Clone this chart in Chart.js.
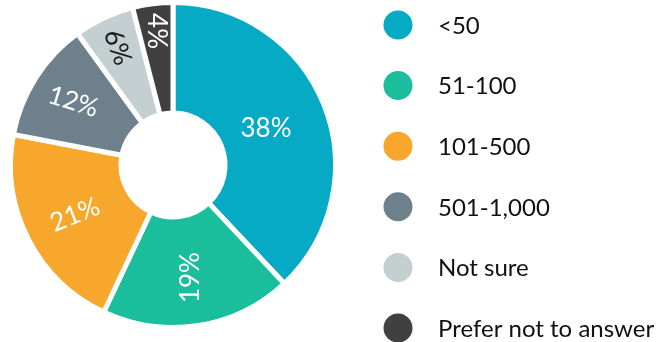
<!DOCTYPE html>
<html>
<head>
<meta charset="utf-8">
<script src="https://cdn.jsdelivr.net/npm/chart.js@4/dist/chart.umd.min.js"></script>
<style>
  html, body { margin: 0; padding: 0; background: #fff; }
  #wrap { width: 669px; height: 342px; position: relative; }
</style>
</head>
<body>
<div id="wrap"><canvas id="myChart"></canvas></div>
<script>
// company size breakdown
const categories = ['<50', '51-100', '101-500', '501-1,000', 'Not sure', 'Prefer not to answer'];
const shares = [38, 19, 21, 12, 6, 4];
const sliceColors = ['#06aac5', '#1bbe9c', '#f6a72c', '#6d808c', '#c3cfd1', '#404040'];

// label styling per slice
const labelColors = ['#fff', '#fff', '#fff', '#fff', '#1a1a1a', '#fff'];
const labelRotation = [0, -90, -22, 17, 70, 90];
const labelRadius = [100, 114, 110, 118, 130, 135];

// draws the percentage inside each slice, rotated
const sliceLabels = {
  id: 'sliceLabels',
  afterDatasetsDraw(chart) {
    const ctx = chart.ctx;
    const meta = chart.getDatasetMeta(0);
    ctx.save();
    ctx.font = '400 26px Lato';
    ctx.textAlign = 'center';
    ctx.textBaseline = 'middle';
    meta.data.forEach((arc, i) => {
      const mid = (arc.startAngle + arc.endAngle) / 2;
      const x = arc.x + Math.cos(mid) * labelRadius[i];
      const y = arc.y + Math.sin(mid) * labelRadius[i];
      ctx.save();
      ctx.translate(x, y);
      ctx.rotate(labelRotation[i] * Math.PI / 180);
      ctx.fillStyle = labelColors[i];
      ctx.fillText(shares[i] + '%', 0, 0);
      ctx.restore();
    });
    ctx.restore();
  }
};

// legend on the right side with round markers
const sideLegend = {
  id: 'sideLegend',
  afterDraw(chart) {
    const ctx = chart.ctx;
    ctx.save();
    ctx.font = '24px Lato';
    ctx.textBaseline = 'middle';
    chart.data.labels.forEach((label, i) => {
      const y = 25 + i * 60.6;
      ctx.beginPath();
      ctx.arc(398, y, 14.5, 0, Math.PI * 2);
      ctx.fillStyle = sliceColors[i];
      ctx.fill();
      ctx.fillStyle = '#111';
      ctx.fillText(label, 438, y + 1);
    });
    ctx.restore();
  }
};

const ctx = document.getElementById('myChart').getContext('2d');
new Chart(ctx, {
  type: 'doughnut',
  data: {
    labels: categories,
    datasets: [{
      data: shares,
      backgroundColor: sliceColors,
      borderColor: '#fff',
      borderWidth: 5,
      hoverOffset: 0
    }]
  },
  options: {
    responsive: true,
    maintainAspectRatio: false,
    animation: false,
    cutout: 52,
    layout: {
      padding: { left: 8, top: 0, bottom: 12, right: 331 }
    },
    plugins: {
      legend: { display: false },
      tooltip: { enabled: false }
    }
  },
  plugins: [sliceLabels, sideLegend]
});
</script>
</body>
</html>
